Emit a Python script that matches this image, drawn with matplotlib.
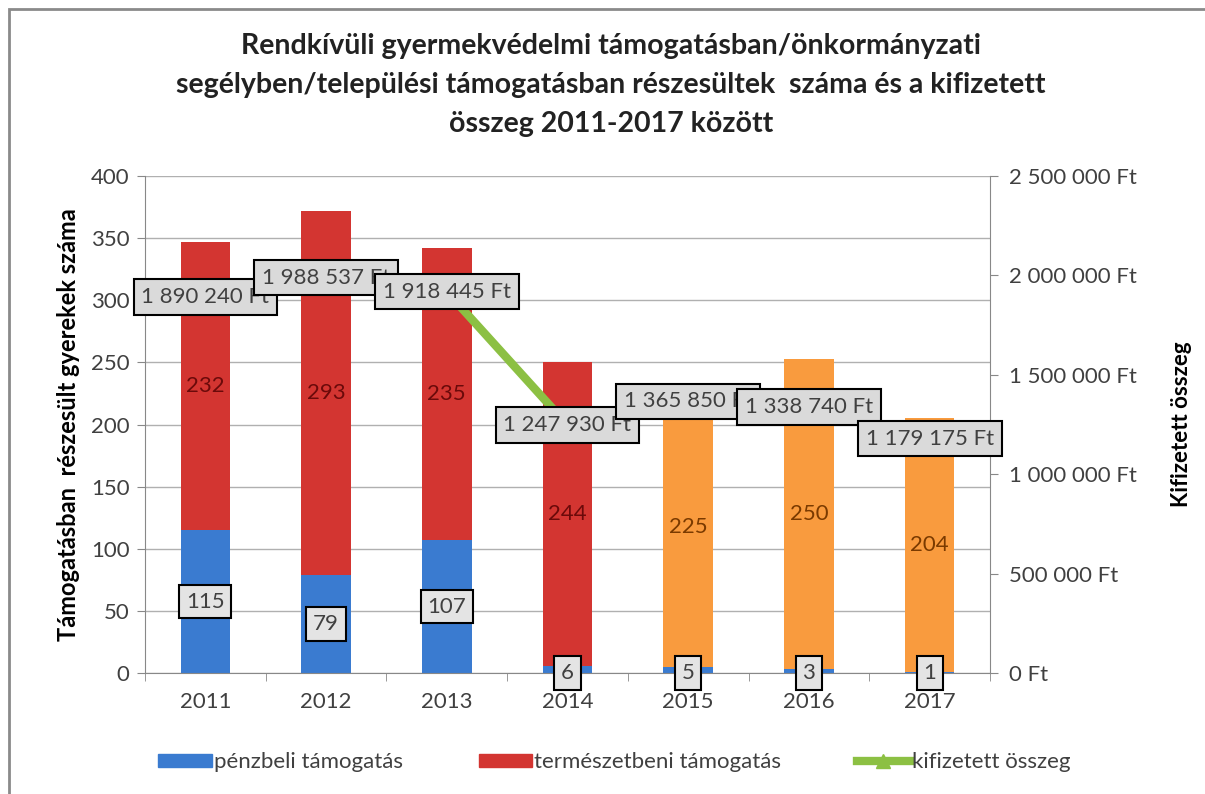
import matplotlib.pyplot as plt
from matplotlib.patches import Patch, Rectangle
from matplotlib.lines import Line2D
from matplotlib.ticker import FuncFormatter

plt.rcParams['font.family'] = ['Lato', 'DejaVu Sans']

years = ['2011', '2012', '2013', '2014', '2015', '2016', '2017']
penzbeli = [115, 79, 107, 6, 5, 3, 1]
termeszetbeni = [232, 293, 235, 244, 225, 250, 204]
kifizetett = [1890240, 1988537, 1918445, 1247930, 1365850, 1338740, 1179175]

blue = '#3A7BD0'
red = '#D33531'
orange = '#F99B3E'
green = '#8CC043'
txt = '#404040'


def ft(v):
    return '{:,}'.format(int(v)).replace(',', ' ') + ' Ft'


fig = plt.figure(figsize=(12.05, 7.94), dpi=100)
ax = fig.add_axes([0.1203, 0.1524, 0.7013, 0.6259])
ax2 = ax.twinx()

x = range(len(years))
w = 0.41
red_cols = [red, red, red, red, orange, orange, orange]
ax.bar(x, penzbeli, w, color=blue, zorder=2)
ax.bar(x, termeszetbeni, w, bottom=penzbeli, color=red_cols, zorder=2)

# labels inside bars
for i in x:
    b = penzbeli[i]
    yb = b / 2 if b > 20 else 0
    ax.text(i, yb, str(b), ha='center', va='center', fontsize=16, color=txt, zorder=6,
            bbox=dict(boxstyle='square,pad=0.3', fc='#E4E4E4', ec='black', lw=1.5))
    tc = '#6B0A0A' if i < 4 else '#7A3A00'
    ax.text(i, b + termeszetbeni[i] / 2, str(termeszetbeni[i]), ha='center', va='center',
            fontsize=16, color=tc, zorder=6)

ax.set_ylim(0, 400)
ax.set_xlim(-0.5, 6.5)
ax.set_yticks(range(0, 401, 50))
ax.set_xticks(list(x))
ax.set_xticklabels(years)
ax.set_xticks([i + 0.5 for i in range(-1, 7)], minor=True)
ax.tick_params(axis='x', which='major', length=0, pad=14, labelsize=16, colors=txt)
ax.tick_params(axis='x', which='minor', length=6, direction='out', color='#888888')
ax.tick_params(axis='y', length=6, direction='out', labelsize=16, colors=txt, pad=5, color='#888888')
ax.yaxis.grid(True, color='#B0B0B0', lw=1)
ax.set_axisbelow(True)
for s in ['top', 'right']:
    ax.spines[s].set_visible(False)
for s in ['left', 'bottom']:
    ax.spines[s].set_color('#888888')
ax.set_ylabel('Támogatásban  részesült gyerekek száma', fontsize=17, fontweight='bold',
              color='black', labelpad=8)

ax2.set_zorder(ax.get_zorder() + 1)
ax2.patch.set_visible(False)
ax2.plot(list(x), kifizetett, color=green, lw=6, marker='^', markersize=10, zorder=3)
for i in x:
    ax2.text(i, kifizetett[i], ft(kifizetett[i]), ha='center', va='center', fontsize=16,
             color=txt, zorder=5,
             bbox=dict(boxstyle='square,pad=0.35', fc='#DADADA', ec='black', lw=1.5))
ax2.set_ylim(0, 2500000)
ax2.set_yticks(range(0, 2500001, 500000))
ax2.yaxis.set_major_formatter(FuncFormatter(lambda v, p: ft(v)))
ax2.tick_params(axis='y', length=6, direction='out', labelsize=16, colors=txt, pad=8, color='#888888')
for s in ['top', 'left', 'bottom']:
    ax2.spines[s].set_visible(False)
ax2.spines['right'].set_color('#888888')
ax2.set_ylabel('Kifizetett összeg', fontsize=16, fontweight='bold', color='black',
               rotation=90, labelpad=24)

fig.suptitle('Rendkívüli gyermekvédelmi támogatásban/önkormányzati\n'
             'segélyben/települési támogatásban részesültek  száma és a kifizetett\n'
             'összeg 2011-2017 között',
             x=0.507, y=0.958, fontsize=20.5, fontweight='bold', color='#222222', linespacing=1.6)

handles = [Patch(color=blue), Patch(color=red),
           Line2D([], [], color=green, lw=6, marker='^', markersize=10)]
names = ['pénzbeli támogatás', 'természetbeni támogatás', 'kifizetett összeg']
fig.legend(handles, names, loc='center', bbox_to_anchor=(0.51, 0.04), ncol=3,
           frameon=False, fontsize=16, handlelength=2.4, handleheight=0.5, handletextpad=0.1,
           columnspacing=3.4, labelcolor=txt)

fig.add_artist(Rectangle((0.0075, -0.5), 2, 0.9887 + 0.5, transform=fig.transFigure,
                         fill=False, ec='#8A8A8A', lw=2))

fig.savefig('out.png', dpi=100)
